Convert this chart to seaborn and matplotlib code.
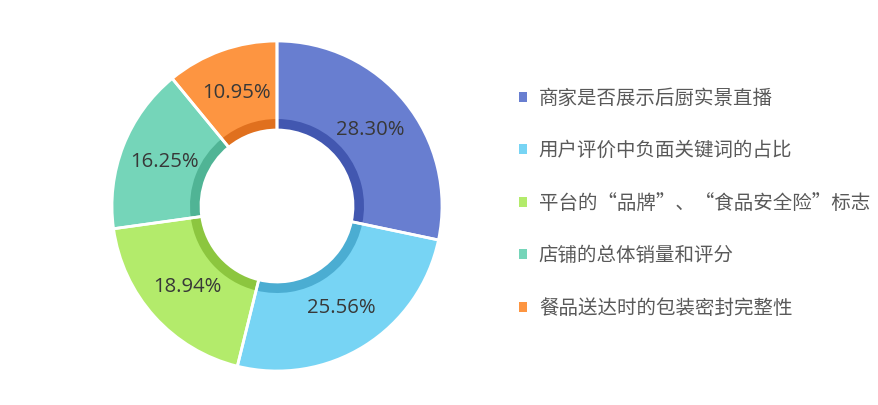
import matplotlib
matplotlib.use('Agg')
import matplotlib.pyplot as plt
import seaborn as sns

### Donut chart of the five factors

categories = ['商家是否展示后厨实景直播', '用户评价中负面关键词的占比',
              '平台的“品牌”、“食品安全险”标志', '店铺的总体销量和评分',
              '餐品送达时的包装密封完整性']
shares = [28.30, 25.56, 18.94, 16.25, 10.95]
outer_colors = ['#687ed0', '#77d4f4', '#b3eb6b', '#75d5b9', '#fd9541']
inner_colors = ['#4257b0', '#4badd2', '#8cc63f', '#50b495', '#e0701e']

sns.set_theme(style='white')
plt.rcParams['font.family'] = ['Noto Sans CJK SC', 'DejaVu Sans']

W, H = 879, 405
fig = plt.figure(figsize=(W / 100, H / 100), dpi=100)
cx, cy, r = 277, 206, 165
ax = fig.add_axes([(cx - r) / W, (H - cy - r) / H, 2 * r / W, 2 * r / H])

hole, ring = 76 / 165, 87 / 165
common = dict(startangle=90, counterclock=False)

# light part of each slice, with the labels
wedges, texts, autotexts = ax.pie(
    shares, colors=outer_colors, radius=1.0, autopct='%.2f%%',
    pctdistance=0.73, wedgeprops=dict(width=1 - hole, linewidth=0),
    textprops=dict(fontsize=14.6, color='#383838', family=['Open Sans', 'DejaVu Sans']),
    **common)
for t in autotexts:
    t.set_zorder(5)

# darker inner band
ax.pie(shares, colors=inner_colors, radius=ring,
       wedgeprops=dict(width=ring - hole, linewidth=0), **common)

# white separators on top
ax.pie(shares, colors=['none'] * len(shares), radius=1.0,
       wedgeprops=dict(width=1 - hole, edgecolor='white', linewidth=2,
                       facecolor='none'), **common)

ax.set_xlim(-1.0, 1.0)
ax.set_ylim(-1.0, 1.0)
ax.set_aspect('equal')
ax.axis('off')

leg = fig.legend(wedges, categories, loc='center left',
                 bbox_to_anchor=(519 / W, (H - 203) / H), frameon=False,
                 fontsize=14, labelcolor='#595959', handlelength=0.42,
                 handleheight=0.42, handletextpad=0.6, labelspacing=1.62,
                 borderpad=0, borderaxespad=0)
for h in leg.legend_handles:
    h.set_edgecolor('none')

fig.savefig('out.png', dpi=100)
